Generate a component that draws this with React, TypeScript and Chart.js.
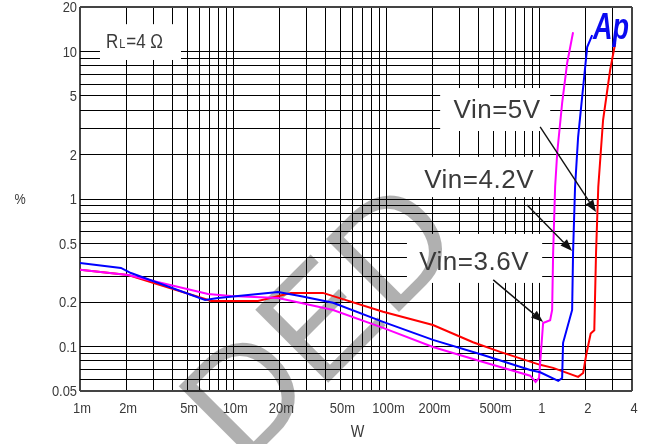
import { useEffect, useRef } from "react";
import { Chart, registerables } from "chart.js";

Chart.register(...registerables);

// THD+N (%) vs output power (W), RL = 4 Ω, three supply voltages
const vin5Power = [0.001, 0.00206, 0.00655, 0.00716, 0.0145, 0.0238, 0.0385, 0.095, 0.201, 0.367, 0.552, 1.006, 1.223, 1.78, 1.92, 2.01, 2.15, 2.27, 2.33, 2.41, 2.59, 2.88, 3.11];
const vin5Thd = [0.331, 0.305, 0.21, 0.204, 0.204, 0.231, 0.231, 0.172, 0.14, 0.107, 0.092, 0.0752, 0.0717, 0.0623, 0.0662, 0.0877, 0.1225, 0.129, 0.431, 1.206, 3.43, 7.48, 11.4];

const vin42Power = [0.001, 0.00185, 0.00215, 0.00655, 0.00796, 0.0196, 0.0273, 0.0448, 0.095, 0.201, 0.427, 0.866, 1.006, 1.32, 1.4, 1.42, 1.627, 1.65, 1.7, 1.78, 1.92, 2.04, 2.2];
const vin42Thd = [0.369, 0.341, 0.315, 0.207, 0.213, 0.234, 0.22, 0.198, 0.147, 0.111, 0.0877, 0.0694, 0.067, 0.0585, 0.0613, 0.106, 0.177, 0.431, 1.206, 2.63, 5.74, 10.7, 12.9];

const vin36Power = [0.001, 0.00206, 0.00685, 0.00967, 0.0196, 0.0273, 0.0448, 0.095, 0.201, 0.427, 0.866, 0.94, 0.99, 1.052, 1.169, 1.205, 1.223, 1.26, 1.3, 1.4, 1.51, 1.65];
const vin36Thd = [0.331, 0.305, 0.227, 0.22, 0.213, 0.198, 0.177, 0.134, 0.0994, 0.0787, 0.0635, 0.0576, 0.0613, 0.1445, 0.151, 0.177, 0.431, 1.206, 2.05, 4.47, 8.35, 13.5];

// Grid: every 1..9 step of each decade
const xGrid = [
  0.001, 0.002, 0.003, 0.004, 0.005, 0.006, 0.007, 0.008, 0.009,
  0.01, 0.02, 0.03, 0.04, 0.05, 0.06, 0.07, 0.08, 0.09,
  0.1, 0.2, 0.3, 0.4, 0.5, 0.6, 0.7, 0.8, 0.9,
  1, 2, 3, 4,
];
const yGrid = [
  0.05, 0.06, 0.07, 0.08, 0.09,
  0.1, 0.2, 0.3, 0.4, 0.5, 0.6, 0.7, 0.8, 0.9,
  1, 2, 3, 4, 5, 6, 7, 8, 9,
  10, 20,
];

// Labelled ticks
const xTickValues = [0.001, 0.002, 0.005, 0.01, 0.02, 0.05, 0.1, 0.2, 0.5, 1, 2, 4];
const xTickLabels = ["1m", "2m", "5m", "10m", "20m", "50m", "100m", "200m", "500m", "1", "2", "4"];
const yTickValues = [0.05, 0.1, 0.2, 0.5, 1, 2, 5, 10, 20];
const yTickLabels = ["0.05", "0.1", "0.2", "0.5", "1", "2", "5", "10", "20"];

// Callout annotations, in data coordinates (W, %)
const calloutText = ["Vin=5V", "Vin=4.2V", "Vin=3.6V"];
const calloutAt = [
  [0.527, 3.54],
  [0.402, 1.188],
  [0.373, 0.331],
];
const calloutBoxes = [
  [0.00135, 0.00456, 15.3, 8.75],
  [0.224, 1.17, 5.65, 2.89],
  [0.132, 1.084, 1.93, 1.03],
  [0.136, 1.037, 0.58, 0.27],
];
const arrowFrom = [
  [1.006, 3.08],
  [0.827, 0.911],
  [0.497, 0.283],
];
const arrowTo = [
  [2.33, 0.817],
  [1.627, 0.444],
  [1.052, 0.147],
];

const FONT = "'Liberation Sans', Arial, sans-serif";
const TEXT = "#3a3a3a";

function pts(xs: number[], ys: number[]) {
  return xs.map((x, i) => ({ x, y: ys[i] }));
}

function squeezed(
  ctx: CanvasRenderingContext2D,
  text: string,
  x: number,
  y: number,
  font: string,
  color: string,
  align: CanvasTextAlign,
  sx = 1,
  baseline: CanvasTextBaseline = "alphabetic",
  spacing = "0px"
) {
  ctx.save();
  ctx.font = font;
  ctx.fillStyle = color;
  ctx.textAlign = align;
  ctx.textBaseline = baseline;
  (ctx as any).letterSpacing = spacing;
  ctx.translate(x, y);
  ctx.scale(sx, 1);
  ctx.fillText(text, 0, 0);
  ctx.restore();
}

const decor = {
  id: "decor",
  beforeDraw(chart: any) {
    const ctx = chart.ctx as CanvasRenderingContext2D;
    ctx.save();
    ctx.fillStyle = "#fff";
    ctx.fillRect(0, 0, chart.width, chart.height);
    ctx.restore();
  },
  beforeDatasetsDraw(chart: any) {
    const ctx = chart.ctx as CanvasRenderingContext2D;
    const xs = chart.scales.x;
    const ys = chart.scales.y;
    // white backing behind the callout text
    ctx.save();
    ctx.fillStyle = "#fff";
    calloutBoxes.forEach(([x0, x1, y0, y1]) => {
      const l = xs.getPixelForValue(x0);
      const r = xs.getPixelForValue(x1);
      const t = ys.getPixelForValue(y0);
      const b = ys.getPixelForValue(y1);
      ctx.fillRect(l, t, r - l, b - t);
    });
    ctx.restore();

    // stamp across the plot
    ctx.save();
    ctx.translate(243, 468);
    ctx.rotate(-Math.PI / 4);
    ctx.font = `150px ${FONT}`;
    ctx.fillStyle = "rgba(0,0,0,0.31)";
    ctx.textBaseline = "alphabetic";
    ctx.fillText("DED", 0, 0);
    ctx.restore();
  },
  afterDatasetsDraw(chart: any) {
    const ctx = chart.ctx as CanvasRenderingContext2D;
    const xs = chart.scales.x;
    const ys = chart.scales.y;
    const area = chart.chartArea;

    // tick labels
    yTickValues.forEach((v, i) => {
      squeezed(ctx, yTickLabels[i], area.left - 3, ys.getPixelForValue(v) + 1, `15px ${FONT}`, TEXT, "right", 0.86, "middle");
    });
    xTickValues.forEach((v, i) => {
      squeezed(ctx, xTickLabels[i], xs.getPixelForValue(v) + 2, area.bottom + 22, `15px ${FONT}`, TEXT, "center", 0.86);
    });

    // axis titles
    squeezed(ctx, "%", area.left - 60, (area.top + area.bottom) / 2 + 5, `14px ${FONT}`, TEXT, "center", 0.9);
    squeezed(ctx, "W", xs.getPixelForValue(0.1) - 29, area.bottom + 46, `16px ${FONT}`, TEXT, "center", 0.9);

    // load label
    const rx = xs.getPixelForValue(0.00148);
    const ry = ys.getPixelForValue(10.55);
    ctx.save();
    ctx.font = `20px ${FONT}`;
    ctx.fillStyle = TEXT;
    ctx.textBaseline = "alphabetic";
    ctx.translate(rx, ry);
    ctx.scale(0.85, 1);
    ctx.fillText("R", 0, 0);
    let w = ctx.measureText("R").width;
    ctx.font = `13px ${FONT}`;
    ctx.fillText("L", w + 1, 0);
    w += ctx.measureText("L").width + 2;
    ctx.font = `20px ${FONT}`;
    ctx.fillText("=4 Ω", w, 0);
    ctx.restore();

    // callouts
    calloutText.forEach((t, i) => {
      const [vx, vy] = calloutAt[i];
      squeezed(ctx, t, xs.getPixelForValue(vx), ys.getPixelForValue(vy), `26px ${FONT}`, TEXT, "center", 1, "alphabetic", "0.5px");
    });

    // arrows
    ctx.save();
    ctx.strokeStyle = "#111";
    ctx.fillStyle = "#111";
    ctx.lineWidth = 1.4;
    arrowFrom.forEach((f, i) => {
      const x0 = xs.getPixelForValue(f[0]);
      const y0 = ys.getPixelForValue(f[1]);
      const x1 = xs.getPixelForValue(arrowTo[i][0]);
      const y1 = ys.getPixelForValue(arrowTo[i][1]);
      const a = Math.atan2(y1 - y0, x1 - x0);
      const len = 12;
      const half = 4.5;
      const bx = x1 - len * Math.cos(a);
      const by = y1 - len * Math.sin(a);
      ctx.beginPath();
      ctx.moveTo(x0, y0);
      ctx.lineTo(bx, by);
      ctx.stroke();
      ctx.beginPath();
      ctx.moveTo(x1, y1);
      ctx.lineTo(bx + half * Math.sin(a), by - half * Math.cos(a));
      ctx.lineTo(bx - half * Math.sin(a), by + half * Math.cos(a));
      ctx.closePath();
      ctx.fill();
    });
    ctx.restore();

    // analyzer logo
    squeezed(ctx, "Ap", area.right - 21, area.top + 32, `bold italic 36px ${FONT}`, "#0a0af0", "center", 0.75);
  },
};

export default function App() {
  const ref = useRef<HTMLCanvasElement | null>(null);

  useEffect(() => {
    const canvas = ref.current;
    if (!canvas) return;
    const edgeWidth = (lo: number, hi: number) => (ctx: any) =>
      ctx.tick && (ctx.tick.value === lo || ctx.tick.value === hi) ? 2 : 1;
    const edgeColor = (lo: number, hi: number) => (ctx: any) =>
      ctx.tick && (ctx.tick.value === lo || ctx.tick.value === hi) ? "#444" : "#000";

    const chart = new Chart(canvas, {
      type: "scatter",
      data: {
        datasets: [
          { label: "Vin=4.2V", data: pts(vin42Power, vin42Thd), borderColor: "#0000ff" },
          { label: "Vin=3.6V", data: pts(vin36Power, vin36Thd), borderColor: "#ff00ff" },
          { label: "Vin=5V", data: pts(vin5Power, vin5Thd), borderColor: "#ff0000" },
        ].map((d) => ({ ...d, showLine: true, pointRadius: 0, borderWidth: 2, tension: 0, fill: false })),
      },
      options: {
        responsive: false,
        animation: false,
        events: [],
        layout: { padding: { left: 0, right: 14, top: 7, bottom: 0 } },
        plugins: { legend: { display: false }, tooltip: { enabled: false } },
        scales: {
          x: {
            type: "logarithmic",
            min: 0.001,
            max: 4,
            afterBuildTicks: (s: any) => {
              s.ticks = xGrid.map((value) => ({ value }));
            },
            afterFit: (s: any) => {
              s.height = 53;
            },
            ticks: { display: false },
            grid: { drawTicks: false, color: edgeColor(0.001, 4), lineWidth: edgeWidth(0.001, 4) },
            border: { display: false },
          },
          y: {
            type: "logarithmic",
            min: 0.05,
            max: 20,
            afterBuildTicks: (s: any) => {
              s.ticks = yGrid.map((value) => ({ value }));
            },
            afterFit: (s: any) => {
              s.width = 80;
            },
            ticks: { display: false },
            grid: { drawTicks: false, color: edgeColor(0.05, 20), lineWidth: edgeWidth(0.05, 20) },
            border: { display: false },
          },
        },
      },
      plugins: [decor],
    } as any);

    return () => chart.destroy();
  }, []);

  return (
    <div style={{ position: "absolute", left: 0, top: 0, width: 646, height: 444, background: "#fff" }}>
      <canvas ref={ref} width={646} height={444} style={{ display: "block" }} />
    </div>
  );
}
